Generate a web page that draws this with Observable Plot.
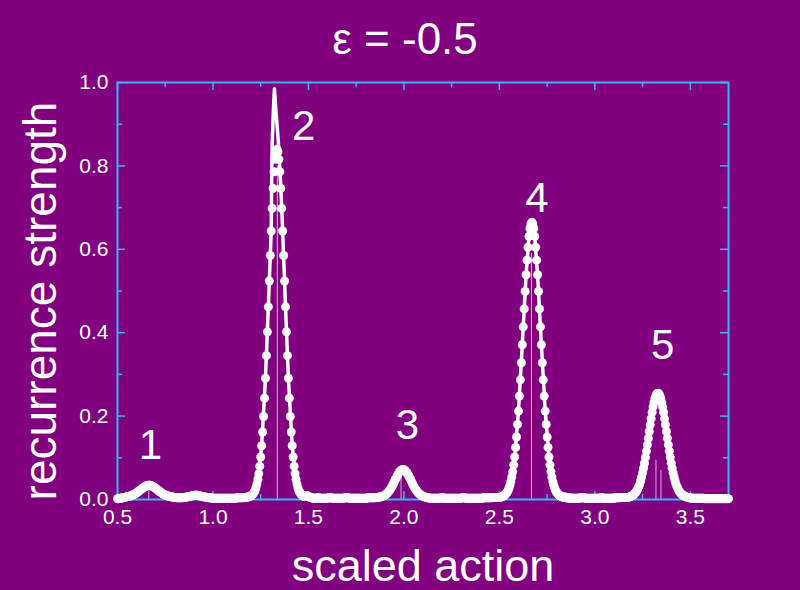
<!DOCTYPE html>
<html>
<head>
<meta charset="utf-8">
<script src="https://cdn.jsdelivr.net/npm/d3@7"></script>
<script src="https://cdn.jsdelivr.net/npm/@observablehq/plot@0.6"></script>
<style>
  html, body { margin: 0; padding: 0; background: #800080; }
</style>
</head>
<body>
<div id="chart"></div>
<script>
// ---------- data ----------
const titleText = "ε = -0.5";
const xLabel = "scaled action";
const yLabel = "recurrence strength";

const xMajor = [0.5, 1.0, 1.5, 2.0, 2.5, 3.0, 3.5];
const xMinor = [0.75, 1.25, 1.75, 2.25, 2.75, 3.25];
const yMajor = [0.0, 0.2, 0.4, 0.6, 0.8, 1.0];
const yMinor = [0.1, 0.3, 0.5, 0.7, 0.9];

// peak labels
const peakNames = ["1", "2", "3", "4", "5"];
const peakLabelX = [0.673, 1.475, 2.018, 2.696, 3.355];
const peakLabelY = [0.096, 0.862, 0.146, 0.689, 0.338];

// thin stick lines
const stickX = [0.664, 1.337, 1.985, 2.668, 3.320, 3.346];
const stickH = [0.022, 0.80, 0.053, 0.59, 0.094, 0.070];

// solid curve (x, y)
const linePoints = [
  [0.50,0.002],[0.55,0.007],[0.58,0.011],[0.60,0.016],[0.62,0.023],[0.64,0.030],[0.665,0.034],
  [0.69,0.030],[0.71,0.023],[0.73,0.016],[0.75,0.011],[0.78,0.007],[0.85,0.005],[0.90,0.009],
  [0.93,0.010],[0.97,0.005],[1.05,0.003],[1.15,0.004],[1.195,0.008],[1.215,0.017],[1.235,0.048],
  [1.255,0.129],[1.275,0.291],[1.29,0.462],[1.305,0.644],[1.307,0.75],[1.310,0.85],[1.316,0.93],
  [1.322,0.985],[1.330,0.93],[1.342,0.86],[1.352,0.78],[1.358,0.72],[1.365,0.644],[1.38,0.462],
  [1.395,0.291],[1.415,0.129],[1.435,0.048],[1.455,0.017],[1.475,0.008],[1.49,0.009],[1.50,0.006],
  [1.55,0.003],[1.70,0.003],[1.85,0.005],[1.885,0.007],[1.905,0.012],[1.925,0.022],[1.945,0.038],
  [1.965,0.057],[1.985,0.070],[1.995,0.072],[2.005,0.070],[2.025,0.057],[2.045,0.038],[2.065,0.022],
  [2.085,0.012],[2.105,0.007],[2.30,0.003],[2.50,0.006],[2.54,0.017],[2.56,0.043],[2.58,0.102],
  [2.60,0.212],[2.62,0.371],[2.64,0.539],[2.655,0.631],[2.67,0.665],[2.685,0.631],[2.70,0.539],
  [2.72,0.371],[2.74,0.212],[2.76,0.102],[2.78,0.043],[2.80,0.017],[2.95,0.003],[3.15,0.005],
  [3.205,0.012],[3.225,0.026],[3.245,0.054],[3.265,0.101],[3.285,0.163],[3.305,0.222],[3.33,0.255],
  [3.355,0.222],[3.375,0.163],[3.395,0.101],[3.415,0.054],[3.435,0.026],[3.455,0.012],[3.55,0.003],
  [3.70,0.002]
];

// dotted series, sampled every 0.005 in x; each segment gives its first x
const dotStep = 0.005;
const dotsBase1X0 = 0.500;
const dotsBase1 = [0.002,0.002,0.003,0.003,0.003,0.004,0.004,0.005,0.005,0.006];
const dotsPeak1X0 = 0.550;
const dotsPeak1 = [0.007,0.007,0.008,0.008,0.009,0.010,0.011,0.012,0.013,0.014,
  0.016,0.018,0.019,0.021,0.023,0.025,0.027,0.028,0.030,0.031,
  0.033,0.033,0.034,0.034,0.034,0.033,0.033,0.031,0.030,0.028,
  0.027,0.025,0.023,0.021,0.019,0.018,0.016,0.014,0.013,0.012,
  0.011,0.010,0.009,0.008,0.008,0.007,0.007];
const dotsBase2X0 = 0.785;
const dotsBase2 = [0.006,0.006,0.005,0.005,0.005,0.004,0.004,0.004,0.004,0.004,0.004,0.004,0.005,0.005,
  0.005,0.006,0.006,0.007,0.007,0.008,0.008,0.009,0.009,0.010,0.010,0.010,0.010,0.010,0.009,0.009,0.008,0.008,0.007,0.007,0.006,0.006,0.005,0.005,
  0.004,0.004,0.004,0.004,0.003,0.003,0.003,0.003,0.003,0.003,
  0.003,0.003,0.003,0.003,0.003,0.003,0.003,0.003,0.003,0.003,
  0.003,0.003,0.003,0.003,0.003,0.003,0.003,0.003,0.003,0.003,
  0.004,0.004,0.004,0.004,0.004,0.004,0.004,0.005,0.005,0.005,
  0.005,0.006,0.006,0.007];
const dotsPeak2X0 = 1.195;
const dotsPeak2 = [0.008,0.009,0.011,0.013,0.017,0.021,0.028,0.037,0.048,0.062,
  0.080,0.102,0.129,0.162,0.199,0.243,0.291,0.345,0.402,0.462,
  0.524,0.585,0.644,0.698,0.746,0.786,0.816,0.834,0.840,
  0.834,0.816,0.786,0.746,0.698,0.644,0.585,0.524,0.462,0.402,
  0.345,0.291,0.243,0.199,0.162,0.129,0.102,0.080,0.062,0.048,
  0.037,0.028,0.021,0.017,0.013,0.011,0.009,0.008];
const dotsBase3X0 = 1.480;
const dotsBase3 = [0.007,0.008,0.009,0.009,0.008,0.006,0.005,0.004,0.004,0.003,
  0.003,0.003,0.003,0.004,0.004,0.004,0.003,0.003,0.003,0.003,
  0.003,0.003,0.003,0.003,0.003,0.004,0.004,0.004,0.004,0.003,
  0.003,0.003,0.003,0.003,0.003,0.003,0.003,0.003,0.003,0.003,
  0.003,0.003,0.004,0.004,0.004,0.004,0.004,0.003,0.003,0.003,
  0.003,0.003,0.003,0.003,0.003,0.003,0.003,0.003,0.003,0.003,
  0.003,0.003,0.003,0.003,0.003,0.003,0.004,0.004,0.004,0.004,
  0.004,0.004,0.004,
  0.004,0.004,0.005,0.005,0.005,0.006,0.006,0.007];
const dotsPeak3X0 = 1.885;
const dotsPeak3 = [0.007,0.008,0.009,0.010,0.012,0.014,0.016,0.019,0.022,0.025,
  0.029,0.033,0.038,0.043,0.048,0.052,0.057,0.061,0.065,0.068,
  0.070,0.0715,0.072,
  0.0715,0.070,0.068,0.065,0.061,0.057,0.052,0.048,0.043,0.038,
  0.033,0.029,0.025,0.022,0.019,0.016,0.014,0.012,0.010,0.009,
  0.008,0.007];
const dotsBase4X0 = 2.110;
const dotsBase4 = [0.006,0.005,0.005,0.004,0.004,
  0.003,0.003,0.003,0.003,0.003,0.003,0.003,0.003,0.003,0.003,
  0.003,0.003,0.004,0.004,0.004,0.003,0.003,0.003,0.003,0.003,
  0.003,0.003,0.003,0.003,0.003,0.003,0.003,0.003,0.003,0.003,
  0.003,0.003,0.003,0.003,0.004,0.004,0.004,0.004,0.003,0.003,
  0.003,0.003,0.003,0.003,0.003,0.003,0.003,0.003,0.003,0.003,
  0.003,0.003,0.003,0.003,0.003,0.003,0.004,0.004,0.004,0.004,
  0.004,0.004,0.004,0.004,0.004,0.005,0.005,0.005,0.005,0.005,
  0.005,0.005,0.005,0.005,0.005,
  0.006,0.007,0.008,0.0095,0.012,0.014];
const dotsPeak4X0 = 2.540;
const dotsPeak4 = [0.017,0.021,0.027,0.034,0.043,0.054,0.067,0.083,0.102,0.125,
  0.150,0.180,0.212,0.248,0.287,0.328,0.371,0.414,0.457,0.499,
  0.539,0.574,0.605,0.631,0.650,0.661,0.665,
  0.661,0.650,0.631,0.605,0.574,0.539,0.499,0.457,0.414,0.371,
  0.328,0.287,0.248,0.212,0.180,0.150,0.125,0.102,0.083,0.067,
  0.054,0.043,0.034,0.027,0.021,0.017];
const dotsBase5X0 = 2.805;
const dotsBase5 = [0.014,0.012,0.0095,0.008,0.007,0.006,0.005,0.005,0.004,0.004,
  0.004,0.004,0.003,0.003,0.003,0.003,0.003,0.003,0.003,0.003,
  0.003,0.003,0.003,0.003,0.004,0.004,0.004,0.004,0.004,0.003,
  0.003,0.003,0.003,0.003,0.003,0.003,0.003,0.003,0.003,0.003,
  0.003,0.003,0.003,0.003,0.003,0.004,0.004,0.004,0.003,0.003,
  0.003,0.003,0.003,0.003,0.003,0.003,0.003,0.003,0.003,0.003,
  0.004,0.004,0.004,0.004,0.004,0.004,0.005,0.005,0.005,0.005,
  0.005,0.005,0.005,0.005,0.005,
  0.006,0.007,0.008,0.009,0.0105];
const dotsPeak5X0 = 3.205;
const dotsPeak5 = [0.012,0.015,0.018,0.021,0.026,0.031,0.037,0.045,0.054,0.064,
  0.075,0.087,0.101,0.116,0.131,0.147,0.163,0.179,0.194,0.209,
  0.222,0.233,0.243,0.249,0.254,0.255,
  0.254,0.249,0.243,0.233,0.222,0.209,0.194,0.179,0.163,0.147,
  0.131,0.116,0.101,0.087,0.075,0.064,0.054,0.045,0.037,0.031,
  0.026,0.021,0.018,0.015,0.012];
const dotsBase6X0 = 3.460;
const dotsBase6 = [0.0105,0.009,0.008,0.007,0.006,0.005,0.005,0.004,0.004,
  0.003,0.003,0.003,0.003,0.003,0.003,0.003,0.003,0.003,0.003,
  0.003,0.003,0.003,0.003,0.002,0.002,0.002,0.002,0.002,0.002,
  0.002,0.002,0.002,0.002,0.002,0.002,0.002,0.002,0.002,0.002,
  0.002,0.002,0.002,0.002,0.002,0.002,0.002,0.002,0.002,0.002];

// ---------- assemble ----------
const segments = [
  [dotsBase1X0, dotsBase1], [dotsPeak1X0, dotsPeak1], [dotsBase2X0, dotsBase2],
  [dotsPeak2X0, dotsPeak2], [dotsBase3X0, dotsBase3], [dotsPeak3X0, dotsPeak3],
  [dotsBase4X0, dotsBase4], [dotsPeak4X0, dotsPeak4], [dotsBase5X0, dotsBase5],
  [dotsPeak5X0, dotsPeak5], [dotsBase6X0, dotsBase6]
];
const dots = [];
for (const [x0, ys] of segments) ys.forEach((y, i) => dots.push({x: x0 + i * dotStep, y}));
const sticks = stickX.map((x, i) => ({x, h: stickH[i]}));
const labels = peakNames.map((t, i) => ({t, x: peakLabelX[i], y: peakLabelY[i]}));

const W = 800, H = 590, mL = 117, mR = 72, mT = 82, mB = 91;
const fw = W - mL - mR, fh = H - mT - mB;
const blue = "#3db4f5";
const pink = "#e4a6e8";
const font = "'Liberation Sans', Arial, sans-serif";
const fmt = d3.format(".1f");

const chart = Plot.plot({
  width: W, height: H,
  marginLeft: mL, marginRight: mR, marginTop: mT, marginBottom: mB,
  x: {domain: [0.5, 3.7], axis: null},
  y: {domain: [0, 1], axis: null},
  style: {background: "#800080", color: "white", fontFamily: font},
  marks: [
    Plot.ruleX(sticks, {x: "x", y1: 0, y2: "h", stroke: pink, strokeWidth: 1}),
    // ticks (inward) on all four sides
    Plot.ruleX(xMajor, {x: d => d, insetTop: fh - 8, stroke: blue, strokeWidth: 1.5}),
    Plot.ruleX(xMinor, {x: d => d, insetTop: fh - 5, stroke: blue, strokeWidth: 1.5}),
    Plot.ruleX(xMajor, {x: d => d, insetBottom: fh - 8, stroke: blue, strokeWidth: 1.5}),
    Plot.ruleX(xMinor, {x: d => d, insetBottom: fh - 5, stroke: blue, strokeWidth: 1.5}),
    Plot.ruleY(yMajor, {y: d => d, insetRight: fw - 8, stroke: blue, strokeWidth: 1.5}),
    Plot.ruleY(yMinor, {y: d => d, insetRight: fw - 5, stroke: blue, strokeWidth: 1.5}),
    Plot.ruleY(yMajor, {y: d => d, insetLeft: fw - 8, stroke: blue, strokeWidth: 1.5}),
    Plot.ruleY(yMinor, {y: d => d, insetLeft: fw - 5, stroke: blue, strokeWidth: 1.5}),
    Plot.frame({stroke: blue, strokeWidth: 2}),
    // tick labels
    Plot.text(xMajor, {x: d => d, frameAnchor: "bottom", dy: 18, text: d => fmt(d), fontSize: 21, fill: "white", lineAnchor: "middle"}),
    Plot.text(yMajor, {y: d => d, frameAnchor: "left", dx: -9, text: d => fmt(d), fontSize: 21, fill: "white", textAnchor: "end", lineAnchor: "middle"}),
    Plot.line(linePoints, {x: d => d[0], y: d => d[1], stroke: "white", strokeWidth: 3.5}),
    Plot.dot(dots, {x: "x", y: "y", r: 4.5, fill: "white", stroke: null}),
    Plot.text(labels, {x: "x", y: "y", text: "t", fontSize: 42, fill: "white", lineAnchor: "bottom"}),
    Plot.text([titleText], {frameAnchor: "top", dx: -18, dy: -29, fontSize: 44, fill: "white", lineAnchor: "bottom"}),
    Plot.text([xLabel], {frameAnchor: "bottom", dy: 67, fontSize: 45, fill: "white", lineAnchor: "middle"}),
    Plot.text([yLabel], {frameAnchor: "left", dx: -76, dy: 10, rotate: -90, fontSize: 46, fill: "white", lineAnchor: "middle", textAnchor: "middle"})
  ]
});
document.getElementById("chart").appendChild(chart);
</script>
</body>
</html>
